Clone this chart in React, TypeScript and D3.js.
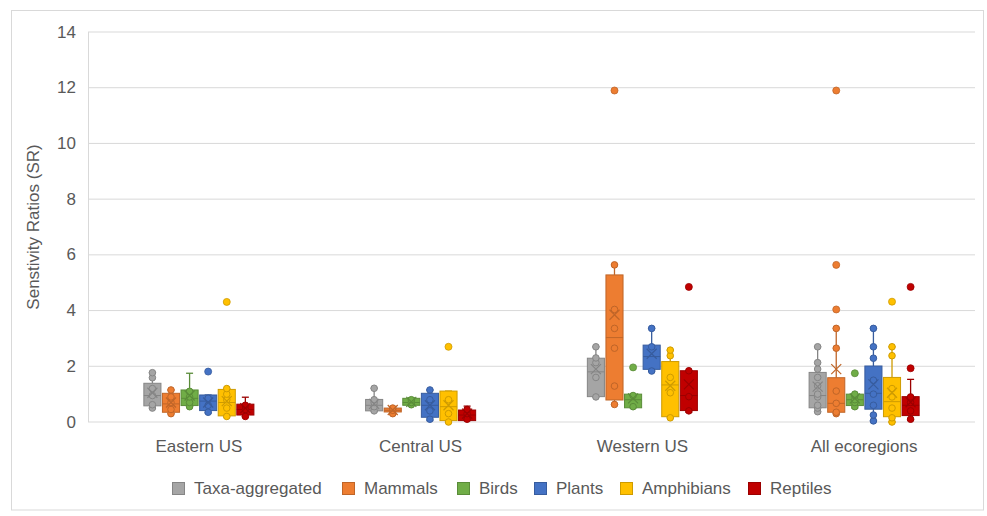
import React from "react";
import * as d3 from "d3";

const categories = ["Eastern US", "Central US", "Western US", "All ecoregions"];
const seriesNames = ["Taxa-aggregated", "Mammals", "Birds", "Plants", "Amphibians", "Reptiles"];
const seriesColors = ["#a5a5a5", "#ed7d31", "#70ad47", "#4472c4", "#ffc000", "#c00000"];
const yTicks = [0, 2, 4, 6, 8, 10, 12, 14];

// [whiskerMin, q1, median, q3, whiskerMax, mean] per category
const taxaStats = [
  [0.5, 0.58, 0.95, 1.39, 1.77, 1.05],
  [0.37, 0.4, 0.6, 0.81, 1.21, 0.65],
  [0.9, 0.91, 1.8, 2.29, 2.7, 1.9],
  [0.37, 0.51, 0.95, 1.78, 2.7, 1.27],
];
const mammalStats = [
  [0.3, 0.35, 0.65, 1.03, 1.15, 0.7],
  [0.28, 0.36, 0.42, 0.5, 0.55, 0.43],
  [0.63, 0.79, 3.03, 5.28, 5.64, 3.85],
  [0.3, 0.35, 0.67, 1.59, 3.36, 1.9],
];
const birdStats = [
  [0.55, 0.59, 0.85, 1.15, 1.75, 0.95],
  [0.6, 0.6, 0.7, 0.85, 0.87, 0.72],
  [0.51, 0.51, 0.8, 1.0, 1.0, 0.85],
  [0.5, 0.59, 0.8, 1.0, 1.0, 0.85],
];
const plantStats = [
  [0.32, 0.41, 0.75, 0.97, 0.97, 0.7],
  [0.05, 0.17, 0.6, 1.03, 1.15, 0.6],
  [1.83, 1.89, 2.35, 2.76, 3.36, 2.45],
  [0.04, 0.46, 1.03, 2.01, 3.36, 1.35],
];
const amphibianStats = [
  [0.18, 0.22, 0.7, 1.17, 1.2, 0.75],
  [0.0, 0.05, 0.55, 1.11, 1.11, 0.6],
  [0.15, 0.19, 1.33, 2.17, 2.58, 1.3],
  [0.0, 0.19, 0.73, 1.6, 2.7, 1.05],
];
const reptileStats = [
  [0.18, 0.25, 0.45, 0.64, 0.89, 0.5],
  [0.05, 0.05, 0.25, 0.43, 0.57, 0.3],
  [0.35, 0.41, 0.95, 1.84, 1.84, 1.35],
  [0.07, 0.23, 0.6, 0.91, 1.53, 0.71],
];

// inner data points per category
const taxaPoints = [
  [0.5, 0.62, 0.95, 1.2, 1.59, 1.77],
  [0.4, 0.55, 0.7, 0.8, 1.21],
  [0.9, 1.6, 2.13, 2.3, 2.7],
  [0.37, 0.5, 0.6, 0.9, 1.0, 1.3, 1.6, 1.9, 2.13, 2.7],
];
const mammalPoints = [
  [0.3, 0.45, 0.7, 0.9, 1.15],
  [0.3, 0.42, 0.5],
  [0.63, 1.29, 2.65, 3.36, 4.04, 5.64],
  [0.3, 0.35, 0.67, 1.11, 2.65, 3.36],
];
const birdPoints = [
  [0.55, 0.7, 0.9, 1.1],
  [0.62, 0.7, 0.8],
  [0.55, 0.95],
  [0.55, 0.7, 0.8, 0.95, 1.0],
];
const plantPoints = [
  [0.35, 0.6, 0.85],
  [0.1, 0.4, 0.8, 1.15],
  [1.83, 2.7, 3.36],
  [0.04, 0.25, 0.6, 1.0, 1.5, 2.29, 2.7, 3.36],
];
const amphibianPoints = [
  [0.2, 0.5, 0.8, 1.0, 1.2],
  [0.0, 0.3, 0.8],
  [0.15, 1.05, 1.6, 2.38, 2.58],
  [0.0, 0.15, 0.5, 0.9, 1.2, 2.38, 2.7],
];
const reptilePoints = [
  [0.2, 0.45, 0.6],
  [0.1, 0.3, 0.45],
  [0.4, 0.91, 1.84],
  [0.1, 0.4, 0.7, 0.9],
];

// outliers per category
const taxaOutliers = [[], [], [], []];
const mammalOutliers = [[], [], [11.9], [4.04, 5.64, 11.9]];
const birdOutliers = [[], [], [1.96], [1.75]];
const plantOutliers = [[1.81], [], [], []];
const amphibianOutliers = [[4.31], [2.7], [], [4.32]];
const reptileOutliers = [[], [], [4.85], [1.93, 4.85]];

const allStats = [taxaStats, mammalStats, birdStats, plantStats, amphibianStats, reptileStats];
const allPoints = [taxaPoints, mammalPoints, birdPoints, plantPoints, amphibianPoints, reptilePoints];
const allOutliers = [taxaOutliers, mammalOutliers, birdOutliers, plantOutliers, amphibianOutliers, reptileOutliers];

const W = 987;
const H = 516;
const FONT = "'Liberation Sans', Arial, sans-serif";
const TEXT = "#595959";
const FS = 17;

export default function App() {
  const x = d3.scaleBand<string>().domain(categories).range([88, 975]);
  const y = d3.scaleLinear().domain([0, 14]).range([422, 32]);
  const groupW = x.bandwidth() * 0.503;
  const inner = d3.scaleBand<string>().domain(seriesNames).range([0, groupW]);
  const boxW = inner.bandwidth() - 1.5;

  const legendX = [172, 342, 457, 534, 620, 748];

  return (
    <svg width={W} height={H} style={{ position: "absolute", left: 0, top: 0, background: "#fff" }}>
      <rect x={11.5} y={10.5} width={972} height={499.5} fill="#fff" stroke="#d9d9d9" />
      {yTicks.map((t) => (
        <line key={"g" + t} x1={88} x2={975} y1={y(t)} y2={y(t)} stroke="#d9d9d9" strokeWidth={1} />
      ))}
      <line x1={88.5} x2={88.5} y1={y(14)} y2={y(0)} stroke="#d9d9d9" />
      {yTicks.map((t) => (
        <text
          key={"t" + t}
          x={76}
          y={y(t)}
          textAnchor="end"
          dominantBaseline="central"
          fontFamily={FONT}
          fontSize={FS}
          fill={TEXT}
        >
          {t}
        </text>
      ))}
      <text
        transform="translate(33,227) rotate(-90)"
        textAnchor="middle"
        dominantBaseline="central"
        fontFamily={FONT}
        fontSize={FS}
        fill={TEXT}
      >
        Senstivity Ratios (SR)
      </text>
      {categories.map((c) => (
        <text
          key={"c" + c}
          x={(x(c) as number) + x.bandwidth() / 2}
          y={446}
          textAnchor="middle"
          dominantBaseline="central"
          fontFamily={FONT}
          fontSize={FS}
          fill={TEXT}
        >
          {c}
        </text>
      ))}
      {seriesNames.map((s, si) => {
        const col = seriesColors[si];
        const dark = d3.color(col)!.darker(0.6).formatHex();
        return (
          <g key={"s" + s}>
            {categories.map((c, ci) => {
              const [mn, q1, md, q3, mx, mean] = allStats[si][ci];
              const cx =
                (x(c) as number) + x.bandwidth() / 2 - groupW / 2 + (inner(s) as number) + inner.bandwidth() / 2;
              const x0 = cx - boxW / 2;
              const cap = 3.5;
              const mk = 5;
              return (
                <g key={c}>
                  <line x1={cx} x2={cx} y1={y(mx)} y2={y(q3)} stroke={dark} strokeWidth={1.3} />
                  <line x1={cx} x2={cx} y1={y(q1)} y2={y(mn)} stroke={dark} strokeWidth={1.3} />
                  <line x1={cx - cap} x2={cx + cap} y1={y(mx)} y2={y(mx)} stroke={dark} strokeWidth={1.3} />
                  <line x1={cx - cap} x2={cx + cap} y1={y(mn)} y2={y(mn)} stroke={dark} strokeWidth={1.3} />
                  <rect
                    x={x0}
                    y={y(q3)}
                    width={boxW}
                    height={Math.max(1, y(q1) - y(q3))}
                    fill={col}
                    stroke={dark}
                    strokeWidth={1}
                  />
                  <line x1={x0} x2={x0 + boxW} y1={y(md)} y2={y(md)} stroke={dark} strokeWidth={1} />
                  {allPoints[si][ci].map((p, pi) => (
                    <circle key={"p" + pi} cx={cx} cy={y(p)} r={3.3} fill={col} stroke={dark} strokeWidth={1} />
                  ))}
                  <path
                    d={`M${cx - mk},${y(mean) - mk}L${cx + mk},${y(mean) + mk}M${cx - mk},${y(mean) + mk}L${cx + mk},${y(mean) - mk}`}
                    stroke={dark}
                    strokeWidth={1.2}
                    fill="none"
                  />
                  {allOutliers[si][ci].map((p, pi) => (
                    <circle key={"o" + pi} cx={cx} cy={y(p)} r={3.5} fill={col} stroke={dark} strokeWidth={0.8} />
                  ))}
                </g>
              );
            })}
          </g>
        );
      })}
      {seriesNames.map((s, si) => (
        <g key={"l" + s}>
          <rect
            x={legendX[si] + 0.5}
            y={482.5}
            width={12}
            height={12}
            fill={seriesColors[si]}
            stroke={d3.color(seriesColors[si])!.darker(0.6).formatHex()}
          />
          <text
            x={legendX[si] + 22}
            y={488.5}
            dominantBaseline="central"
            fontFamily={FONT}
            fontSize={FS}
            fill={TEXT}
          >
            {s}
          </text>
        </g>
      ))}
    </svg>
  );
}
